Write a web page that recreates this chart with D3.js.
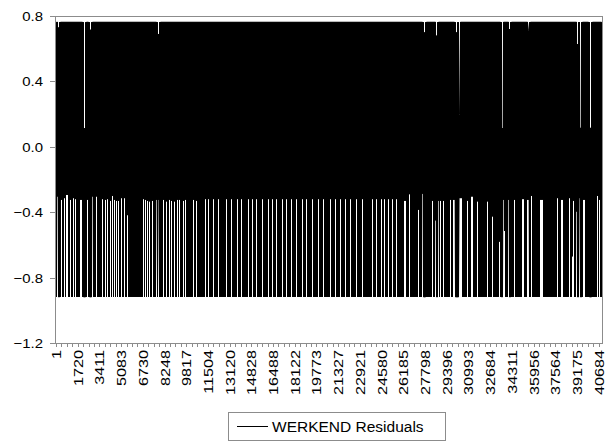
<!DOCTYPE html>
<html>
<head>
<meta charset="utf-8">
<script src="https://cdn.jsdelivr.net/npm/d3@7"></script>
<style>
  body { margin: 0; background: #fff; }
  svg { display: block; }
  text { font-family: "Liberation Sans", Arial, sans-serif; fill: #000; }
</style>
</head>
<body>
<svg id="chart" width="610" height="442"></svg>
<script>
// Observation labels shown on the horizontal axis
const obsLabels = ["1","1720","3411","5083","6730","8248","9817","11504","13120","14828",
  "16488","18122","19773","21327","22921","24580","26185","27798","29396","30993",
  "32684","34311","35956","37564","39175","40684"];
const yTickValues = [-1.2, -0.8, -0.4, 0.0, 0.4, 0.8];
const seriesName = "WERKEND Residuals";

// Sample size and how many observations share one plotted block
const nObs = 40950;
const obsPerLabel = 1628;
const blockSize = 75;

// Typical extremes reached by the residuals inside a block
const usualHigh = 0.762;
const usualLow = -0.918;

// Blocks whose highest residual stays below the usual level: [obs index, highest value]
const upperDips = [
  [187, 0.73], [2137, 0.114], [2587, 0.716], [7687, 0.69], [27637, 0.70],
  [28537, 0.68], [30037, 0.70], [30262, 0.196], [33487, 0.114], [34012, 0.72],
  [35437, 0.71], [39112, 0.628], [39337, 0.116], [40087, 0.116]
];

// Blocks whose lowest residual stays above the usual level: [obs index, lowest value]
const lowerGaps = [
  [112, -0.304], [412, -0.324], [637, -0.314], [787, -0.294], [862, -0.294],
  [1087, -0.324], [1312, -0.314], [1462, -0.32], [1837, -0.324], [1912, -0.324],
  [2362, -0.324], [2737, -0.304], [3037, -0.304], [3487, -0.32], [3712, -0.324],
  [3862, -0.32], [4087, -0.33], [4237, -0.30], [4387, -0.324], [4537, -0.33],
  [4687, -0.33], [4912, -0.314], [5137, -0.314], [5362, -0.418], [6562, -0.32],
  [6712, -0.324], [6862, -0.33], [7012, -0.334], [7237, -0.33], [7537, -0.324],
  [7687, -0.324], [8062, -0.324], [8287, -0.334], [8512, -0.324], [8662, -0.33],
  [8887, -0.334], [9112, -0.324], [9262, -0.324], [9562, -0.33], [9712, -0.324],
  [10312, -0.324], [10537, -0.33],
  [11212, -0.32], [11437, -0.32], [11812, -0.32], [12187, -0.32], [12787, -0.32],
  [13162, -0.32], [13612, -0.32], [13912, -0.32], [14437, -0.32], [14737, -0.32],
  [15037, -0.32], [15487, -0.32], [15937, -0.32], [16237, -0.32], [16537, -0.32],
  [16987, -0.32], [17287, -0.32], [17662, -0.32], [18037, -0.32], [18487, -0.32],
  [18787, -0.32], [19237, -0.32], [19687, -0.32], [20062, -0.32], [20587, -0.32],
  [20962, -0.32], [21337, -0.32], [21712, -0.32], [22087, -0.32], [22537, -0.32],
  [22987, -0.32], [23737, -0.32], [24037, -0.32], [24412, -0.32], [24637, -0.32],
  [24937, -0.32], [25237, -0.32], [25537, -0.32],
  [26137, -0.33], [26212, -0.33], [26512, -0.29], [27187, -0.385], [27487, -0.287],
  [28237, -0.33], [28462, -0.45], [28687, -0.33], [28837, -0.33], [29062, -0.33],
  [29587, -0.324], [29812, -0.324], [29887, -0.324], [30262, -0.314], [30337, -0.314],
  [30412, -0.314], [30862, -0.33], [31162, -0.304], [31237, -0.304], [31612, -0.334],
  [32362, -0.334], [32737, -0.426], [33262, -0.58], [33562, -0.324], [33637, -0.515],
  [33937, -0.324], [34387, -0.324], [34987, -0.32], [35062, -0.32], [35362, -0.324],
  [35437, -0.324], [35662, -0.30], [36337, -0.324], [36412, -0.324], [36487, -0.324],
  [37612, -0.314], [37912, -0.324], [37987, -0.324], [38512, -0.314], [38737, -0.67],
  [38812, -0.33], [39037, -0.396], [39262, -0.314], [39562, -0.324], [39637, -0.324],
  [40612, -0.30], [40762, -0.324]
];

// ---- layout ----
const plot = { left: 56, right: 602, top: 16, bottom: 343 };
const svg = d3.select("#chart");

const x = d3.scaleLinear().domain([0, nObs]).range([plot.left, plot.right]);
const y = d3.scaleLinear().domain([-1.2, 0.8]).range([plot.bottom, plot.top]);

// ---- block envelopes ----
const nBlocks = Math.round(nObs / blockSize);
const hiByBlock = new Map(upperDips.map(([t, v]) => [Math.floor(t / blockSize), v]));
const loByBlock = new Map(lowerGaps.map(([t, v]) => [Math.floor(t / blockSize), v]));

const blocks = d3.range(nBlocks).map(j => ({
  t: j * blockSize + blockSize / 2,
  hi: hiByBlock.has(j) ? hiByBlock.get(j) : usualHigh,
  lo: loByBlock.has(j) ? loByBlock.get(j) : usualLow,
  dip: hiByBlock.has(j),
  gap: loByBlock.has(j)
}));

// Within a block the series sweeps top-bottom-top, or bottom-top-bottom
// next to shortened tops, so joins between blocks stay inside filled areas.
const pts = [];
blocks.forEach((b, j) => {
  const nearDip = b.dip || (j > 0 && blocks[j - 1].dip) || (j < nBlocks - 1 && blocks[j + 1].dip);
  const bottomJoin = nearDip && !b.gap;
  const seq = bottomJoin ? [b.lo, b.hi, b.lo] : [b.hi, b.lo, b.hi];
  seq.forEach(v => pts.push([b.t, v]));
});

const line = d3.line().x(d => x(d[0])).y(d => y(d[1]));

svg.append("path")
  .attr("d", line(pts))
  .attr("fill", "none")
  .attr("stroke", "#000")
  .attr("stroke-width", 1);

// ---- frame and axes ----
const frameColor = "#8c8c8c";
svg.append("rect")
  .attr("x", plot.left - 0.5).attr("y", plot.top + 0.5)
  .attr("width", plot.right - plot.left + 1).attr("height", plot.bottom - plot.top)
  .attr("fill", "none").attr("stroke", frameColor).attr("stroke-width", 1);

// vertical axis
const yAxis = svg.append("g");
yTickValues.forEach(v => {
  const yy = Math.round(y(v)) + 0.5;
  yAxis.append("line")
    .attr("x1", plot.left - 6).attr("x2", plot.left - 0.5)
    .attr("y1", yy).attr("y2", yy)
    .attr("stroke", frameColor);
  yAxis.append("text")
    .attr("transform", `translate(${plot.left - 13},${yy}) scale(1.15,1)`)
    .attr("text-anchor", "end")
    .attr("dy", "0.36em")
    .attr("font-size", 13)
    .text(d3.format(".1f")(v));
});

// horizontal axis: labelled ticks plus three minor ticks between them
const xAxis = svg.append("g");
const minorStep = obsPerLabel / 4;
d3.range(0, nObs, minorStep).forEach(t => {
  const xx = Math.round(x(t)) + 0.5;
  xAxis.append("line")
    .attr("x1", xx).attr("x2", xx)
    .attr("y1", plot.bottom + 1).attr("y2", plot.bottom + 4)
    .attr("stroke", frameColor);
});
obsLabels.forEach((lab, i) => {
  const xx = Math.round(x(i * obsPerLabel)) + 0.5;
  xAxis.append("text")
    .attr("transform", `translate(${xx},${plot.bottom + 7}) rotate(-90) scale(1.35,1)`)
    .attr("text-anchor", "end")
    .attr("dy", "0.36em")
    .attr("font-size", 12)
    .text(lab);
});

// ---- legend ----
const legend = svg.append("g").attr("transform", "translate(228,412)");
legend.append("rect")
  .attr("x", 0.5).attr("y", 0.5).attr("width", 217).attr("height", 28)
  .attr("fill", "#fff").attr("stroke", frameColor);
legend.append("line")
  .attr("x1", 9).attr("x2", 40).attr("y1", 14.5).attr("y2", 14.5)
  .attr("stroke", "#000");
legend.append("text")
  .attr("x", 44).attr("y", 14.5).attr("dy", "0.36em")
  .attr("font-size", 15.5)
  .text(seriesName);
</script>
</body>
</html>
